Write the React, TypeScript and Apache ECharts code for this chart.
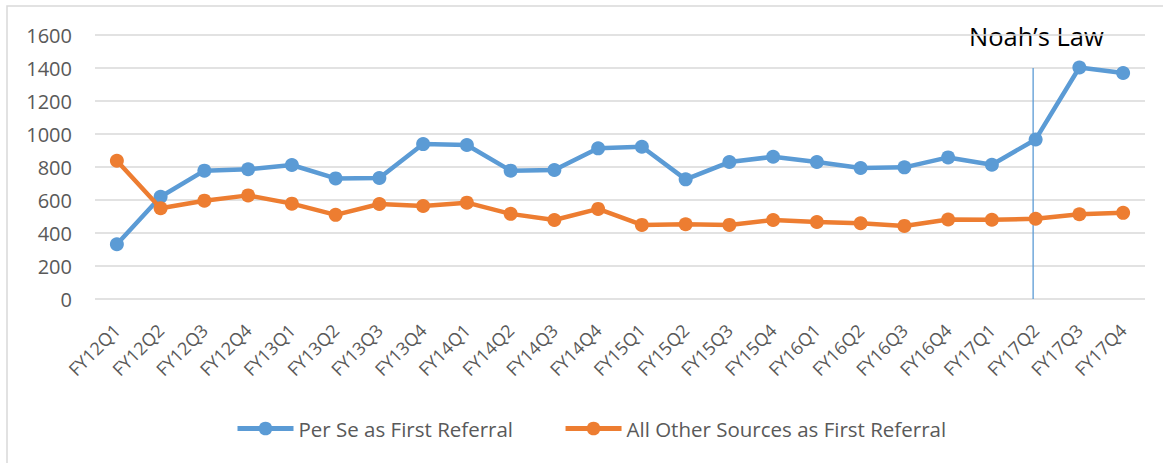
import React, { useEffect, useRef } from "react";
import * as echarts from "echarts";

const categories = [
  "FY12Q1", "FY12Q2", "FY12Q3", "FY12Q4",
  "FY13Q1", "FY13Q2", "FY13Q3", "FY13Q4",
  "FY14Q1", "FY14Q2", "FY14Q3", "FY14Q4",
  "FY15Q1", "FY15Q2", "FY15Q3", "FY15Q4",
  "FY16Q1", "FY16Q2", "FY16Q3", "FY16Q4",
  "FY17Q1", "FY17Q2", "FY17Q3", "FY17Q4",
];

const perSe = [
  332, 620, 778, 786,
  812, 731, 733, 939,
  933, 778, 782, 913,
  923, 725, 830, 862,
  830, 794, 798, 858,
  814, 967, 1403, 1370,
];

const allOther = [
  838, 550, 596, 628,
  578, 510, 576, 564,
  584, 516, 479, 546,
  449, 453, 449, 479,
  467, 459, 443, 482,
  480, 486, 514, 522,
];

const seriesNames = ["Per Se as First Referral", "All Other Sources as First Referral"];
const annotationText = "Noah\u2019s Law";
const annotationCategory = "FY17Q2";
const annotationTop = 1400;

const FONT = "'Open Sans', 'Liberation Sans', sans-serif";
const BLUE = "#5B9BD5";
const ORANGE = "#ED7D31";

export default function App() {
  const ref = useRef<HTMLDivElement>(null);

  useEffect(() => {
    if (!ref.current) return;
    const chart = echarts.init(ref.current, null, { renderer: "svg" });
    chart.setOption({
      animation: false,
      backgroundColor: "#ffffff",
      textStyle: { fontFamily: FONT },
      grid: { left: 95, right: 18, top: 35, bottom: 164, containLabel: false },
      legend: {
        bottom: 19,
        left: 230,
        itemWidth: 56,
        itemHeight: 17,
        itemGap: 50,
        lineStyle: { width: 5 },
        textStyle: { color: "#595959", fontSize: 20.5, fontFamily: FONT },
        data: seriesNames,
      },
      xAxis: {
        type: "category",
        data: categories,
        boundaryGap: true,
        axisLine: { show: false },
        axisTick: { show: false },
        axisLabel: {
          rotate: 45,
          color: "#595959",
          fontSize: 18,
          margin: 28,
          interval: 0,
        },
      },
      yAxis: {
        type: "value",
        min: 0,
        max: 1600,
        interval: 200,
        axisLine: { show: false },
        axisTick: { show: false },
        splitLine: { lineStyle: { color: "#d9d9d9", width: 1.5 } },
        axisLabel: {
          color: "#595959",
          fontSize: 20,
          margin: 23,
          formatter: (v: number) => String(v),
        },
      },
      graphic: [
        {
          type: "rect",
          shape: { x: 7, y: 6, width: 1200, height: 500 },
          style: { fill: "none", stroke: "#d9d9d9", lineWidth: 1.5 },
          silent: true,
          z: -10,
        },
        {
          type: "text",
          left: 969,
          top: 23,
          style: { text: annotationText, fill: "#000000", fontSize: 25.5, fontFamily: FONT },
        },
      ],
      series: [
        {
          name: "annotation",
          type: "custom",
          data: [[annotationCategory, annotationTop]],
          silent: true,
          z: 1,
          renderItem: (_params: any, api: any) => {
            const cat = api.value(0);
            const top = api.value(1);
            const p0 = api.coord([cat, 0]);
            const p1 = api.coord([cat, top]);
            return {
              type: "line",
              shape: { x1: p0[0] - 2.5, y1: p0[1], x2: p1[0] - 2.5, y2: p1[1] },
              style: { stroke: BLUE, lineWidth: 1.3 },
            };
          },
        },
        {
          name: seriesNames[0],
          type: "line",
          data: perSe,
          color: BLUE,
          symbol: "circle",
          symbolSize: 14,
          lineStyle: { width: 4.5, color: BLUE },
          itemStyle: { color: BLUE },
          z: 3,
        },
        {
          name: seriesNames[1],
          type: "line",
          data: allOther,
          color: ORANGE,
          symbol: "circle",
          symbolSize: 14,
          lineStyle: { width: 4.5, color: ORANGE },
          itemStyle: { color: ORANGE },
          z: 4,
        },
      ],
    });
    return () => chart.dispose();
  }, []);

  return (
    <div
      ref={ref}
      style={{ position: "fixed", left: 0, top: 0, width: 1163, height: 463 }}
    />
  );
}
